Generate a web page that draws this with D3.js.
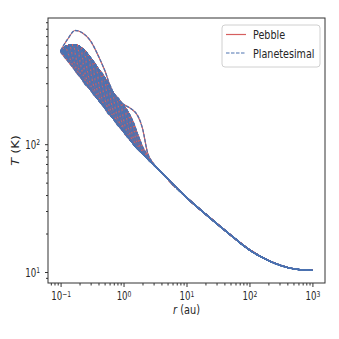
<!DOCTYPE html>
<html>
<head>
<meta charset="utf-8">
<script src="https://cdn.jsdelivr.net/npm/d3@7"></script>
<style>
  body { margin: 0; background: #fff; }
  svg { display: block; }
  text { font-family: "DejaVu Sans", sans-serif; fill: #262626; }
</style>
</head>
<body>
<div id="chart"></div>
<script>
// radii (au) of the inner part, where the curves differ
var rInner = [0.1, 0.13, 0.17, 0.22, 0.3, 0.4, 0.5, 0.7, 1, 1.3, 1.7, 2, 2.4, 3, 4];
// upper edge of the bundle (K)
var tUpper = [530, 590, 598, 560, 470, 385, 330, 248, 200, 163, 117, 96, 82, 70, 60];
// lower edge of the bundle (K)
var tLower = [525, 446, 378, 322, 266, 222, 194, 157, 126, 107, 91, 84.6, 77.2, 69, 60];
// the hottest curve, well above the bundle
var tHot = [540, 665, 775, 745, 640, 488, 380, 240, 205, 190, 165, 133, 86, 70, 60];

// shared outer tail
var rOuter = [5, 7, 10, 20, 50, 100, 200, 500, 1000];
var tOuter = [53.6, 45.3, 38.3, 28.4, 19.5, 14.9, 12.3, 10.6, 10.3];

// where each curve of the bundle leaves the upper edge and falls to the lower one
var dropPoints = [
  [[0.12, 570], [0.132, 511], [0.15, 431]],
  [[0.14, 593], [0.154, 489], [0.175, 398]],
  [[0.16, 597], [0.176, 468], [0.2, 369]],
  [[0.185, 585], [0.204, 439], [0.231, 339]],
  [[0.21, 566], [0.231, 412], [0.26, 315]],
  [[0.24, 533], [0.264, 381], [0.3, 290]],
  [[0.28, 489], [0.308, 347], [0.35, 262]],
  [[0.32, 450], [0.352, 318], [0.4, 241]],
  [[0.37, 406], [0.407, 289], [0.46, 220]],
  [[0.43, 366], [0.473, 262], [0.54, 200]],
  [[0.5, 330], [0.55, 236], [0.625, 181]],
  [[0.58, 291], [0.638, 211], [0.725, 165]],
  [[0.67, 257], [0.737, 191], [0.84, 151]],
  [[0.78, 232], [0.858, 174], [0.975, 137]],
  [[0.9, 213], [0.99, 160], [1.125, 125]],
  [[1.05, 193], [1.155, 143], [1.31, 113]],
  [[1.2, 174], [1.32, 130], [1.5, 103]],
  [[1.4, 149], [1.54, 113], [1.75, 93]],
  [[1.6, 126], [1.76, 100], [2.0, 86]],
  [[1.85, 105], [2.04, 89], [2.31, 80]]
];

var xMajor = [0.1, 1, 10, 100, 1000];
var xMajorExp = ["\u22121", "0", "1", "2", "3"];
var yMajor = [10, 100];
var yMajorExp = ["1", "2"];

var legendNames = ["Pebble", "Planetesimal"];

var pebbleColor = "#d65f5f";
var planetColor = "#4c72b0";
var dashes = "3.5,1.5";

var svgWidth = 339;
var svgHeight = 339;

var margin = {
  top: 18,
  right: 14,
  bottom: 56,
  left: 48
};

var width = svgWidth - margin.left - margin.right;
var height = svgHeight - margin.top - margin.bottom;

// the original figure was squeezed sideways, so the text is narrow
var squeeze = 0.75;

var svg = d3.select("#chart")
  .append("svg")
  .attr("width", svgWidth)
  .attr("height", svgHeight);

var chartGroup = svg.append("g")
  .attr("transform", `translate(${margin.left}, ${margin.top})`);

var xScale = d3.scaleLog()
  .domain([Math.pow(10, -1.2), Math.pow(10, 3.2)])
  .range([0, width]);

var yScale = d3.scaleLog()
  .domain([Math.pow(10, 0.914), Math.pow(10, 2.987)])
  .range([height, 0]);

function zip(rs, ts) {
  return rs.map((r, i) => [r, ts[i]]);
}
var tail = zip(rOuter, tOuter);

function bundleCurve(drop) {
  var first = drop[0][0];
  var last = drop[drop.length - 1][0];
  var up = zip(rInner, tUpper).filter(p => p[0] < first);
  var low = zip(rInner, tLower).filter(p => p[0] > last);
  return up.concat(drop, low, tail);
}

var curves = dropPoints.map(bundleCurve);
curves.push(zip(rInner, tLower).concat(tail));
curves.push(zip(rInner, tUpper).concat(tail));
curves.push(zip(rInner, tHot).concat(tail));

var line = d3.line()
  .x(d => xScale(d[0]))
  .y(d => yScale(d[1]))
  .curve(d3.curveMonotoneX);

var area = d3.area()
  .x(d => xScale(d[0]))
  .y0(d => yScale(d[2]))
  .y1(d => yScale(d[1]))
  .curve(d3.curveMonotoneX);

chartGroup.append("clipPath")
  .attr("id", "plotclip")
  .append("rect")
  .attr("width", width)
  .attr("height", height);

var plot = chartGroup.append("g").attr("clip-path", "url(#plotclip)");

// the bundle is dense enough to read as a solid band
plot.append("path")
  .datum(rInner.map((r, i) => [r, tUpper[i], tLower[i]]))
  .attr("d", area)
  .attr("fill", planetColor);

// pebble runs first, planetesimal runs dashed on top
plot.selectAll("path.pebble")
  .data(curves)
  .enter()
  .append("path")
  .classed("pebble", true)
  .attr("d", line)
  .attr("fill", "none")
  .attr("stroke", pebbleColor)
  .attr("stroke-width", 1.2);

plot.selectAll("path.planet")
  .data(curves)
  .enter()
  .append("path")
  .classed("planet", true)
  .attr("d", line)
  .attr("fill", "none")
  .attr("stroke", planetColor)
  .attr("stroke-width", 1.3)
  .attr("stroke-dasharray", dashes);

// axes
var xMinor = xScale.ticks().filter(v => xMajor.indexOf(v) < 0);
var yMinor = yScale.ticks().filter(v => yMajor.indexOf(v) < 0);

function styleAxis(g) {
  g.select(".domain").remove();
  g.selectAll("line").attr("stroke", "#333");
}

chartGroup.append("g")
  .attr("transform", `translate(0, ${height})`)
  .call(d3.axisBottom(xScale).tickValues(xMinor).tickSize(2.5).tickFormat(""))
  .call(styleAxis);

var xAxis = chartGroup.append("g")
  .attr("transform", `translate(0, ${height})`)
  .call(d3.axisBottom(xScale).tickValues(xMajor).tickSize(4).tickFormat(""))
  .call(styleAxis);

chartGroup.append("g")
  .call(d3.axisLeft(yScale).tickValues(yMinor).tickSize(2).tickFormat(""))
  .call(styleAxis);

var yAxis = chartGroup.append("g")
  .call(d3.axisLeft(yScale).tickValues(yMajor).tickSize(3).tickFormat(""))
  .call(styleAxis);

function powerLabel(sel, exps) {
  sel.each(function(d, i) {
    var t = d3.select(this).append("text");
    t.append("tspan").text("10");
    t.append("tspan")
      .attr("dy", "-0.42em")
      .attr("font-size", "0.7em")
      .text(exps[i]);
  });
}

xAxis.selectAll(".tick").call(powerLabel, xMajorExp);
xAxis.selectAll(".tick text")
  .attr("transform", `translate(0, 17) scale(${squeeze}, 1)`)
  .attr("text-anchor", "middle")
  .attr("font-size", "11.5px");

yAxis.selectAll(".tick").call(powerLabel, yMajorExp);
yAxis.selectAll(".tick text")
  .attr("transform", `translate(-8, 4.2) scale(${squeeze}, 1)`)
  .attr("text-anchor", "end")
  .attr("font-size", "11.5px");

// frame
chartGroup.append("rect")
  .attr("width", width)
  .attr("height", height)
  .attr("fill", "none")
  .attr("stroke", "#333")
  .attr("stroke-width", 1);

// axis titles
var xTitle = svg.append("text")
  .attr("transform", `translate(${margin.left + width / 2}, 314) scale(${squeeze}, 1)`)
  .attr("text-anchor", "middle")
  .attr("font-size", "13px");
xTitle.append("tspan").attr("font-style", "italic").text("r");
xTitle.append("tspan").text(" (au)");

var yTitle = svg.append("text")
  .attr("transform", `translate(19, ${margin.top + height / 2}) rotate(-90) scale(1, ${squeeze})`)
  .attr("text-anchor", "middle")
  .attr("font-size", "13px");
yTitle.append("tspan").attr("font-style", "italic").text("T");
yTitle.append("tspan").text(" (K)");

// legend
var legend = svg.append("g").attr("transform", "translate(222, 25)");

legend.append("rect")
  .attr("width", 98)
  .attr("height", 42)
  .attr("rx", 3)
  .attr("fill", "#fff")
  .attr("fill-opacity", 0.8)
  .attr("stroke", "#d0d0d0")
  .attr("stroke-width", 1);

legendNames.forEach(function(name, i) {
  var y = 9.5 + i * 18.5;
  legend.append("line")
    .attr("x1", 4)
    .attr("x2", 24)
    .attr("y1", y)
    .attr("y2", y)
    .attr("stroke", i == 0 ? pebbleColor : planetColor)
    .attr("stroke-width", 1.2)
    .attr("stroke-dasharray", i == 0 ? null : "3.5,1.5");
  legend.append("text")
    .attr("transform", `translate(31, ${y + 4.5}) scale(${squeeze}, 1)`)
    .attr("font-size", "12.8px")
    .text(name);
});
</script>
</body>
</html>
